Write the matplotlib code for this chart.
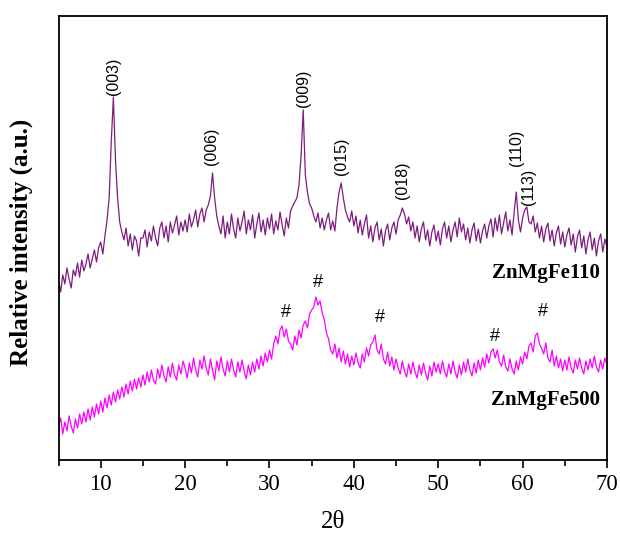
import numpy as np
import matplotlib
matplotlib.use('Agg')
import matplotlib.pyplot as plt
from matplotlib.ticker import MultipleLocator

# 2theta grid, 0.25 deg step
two_theta = np.arange(5, 70.001, 0.25)

# ZnMgFe110 (upper pattern, offset units)
znmgfe110 = [
    180, 168, 185, 176, 192, 181, 172, 190, 184, 197, 183, 200, 189, 196, 206, 192, 201, 210, 198, 212,
    218, 206, 224, 240, 262, 318, 363, 300, 262, 238, 228, 220, 232, 214, 226, 210, 224, 219, 204, 222,
    222, 230, 213, 228, 219, 234, 222, 214, 232, 238, 222, 234, 218, 238, 227, 235, 244, 225, 238, 229,
    240, 228, 246, 233, 240, 250, 233, 246, 252, 238, 250, 255, 264, 287, 262, 244, 234, 226, 244, 222,
    238, 226, 246, 231, 222, 242, 229, 238, 249, 226, 240, 230, 245, 222, 236, 247, 228, 240, 225, 242,
    231, 246, 226, 239, 230, 248, 235, 224, 242, 232, 249, 254, 258, 262, 275, 305, 350, 285, 268, 256,
    252, 244, 238, 247, 232, 242, 230, 240, 247, 230, 239, 229, 252, 268, 277, 262, 250, 243, 238, 249,
    234, 244, 227, 240, 225, 236, 245, 222, 234, 218, 232, 238, 220, 231, 214, 229, 236, 220, 232, 238,
    226, 240, 245, 252, 246, 236, 243, 229, 238, 222, 234, 218, 231, 238, 220, 230, 214, 228, 235, 219,
    229, 215, 231, 238, 222, 234, 218, 230, 238, 223, 242, 228, 236, 220, 232, 217, 230, 237, 219, 231,
    217, 229, 236, 222, 234, 241, 223, 242, 229, 245, 226, 237, 248, 229, 240, 225, 248, 268, 240, 228,
    242, 250, 253, 238, 236, 244, 228, 237, 222, 234, 218, 231, 237, 219, 230, 214, 227, 234, 216, 228,
    213, 225, 232, 215, 226, 208, 223, 230, 212, 224, 206, 220, 228, 210, 222, 204, 219, 226, 208, 221,
    213]

# ZnMgFe500 (lower pattern)
znmgfe500 = [
    33, 42, 26, 38, 29, 44, 34, 27, 41, 32, 46, 36, 48, 38, 51, 40, 53, 43, 56, 46,
    59, 48, 62, 52, 65, 55, 68, 58, 70, 61, 73, 63, 76, 66, 79, 69, 81, 71, 82, 73,
    85, 75, 88, 78, 90, 80, 76, 91, 82, 95, 84, 78, 93, 83, 97, 85, 80, 95, 86, 99,
    92, 82, 97, 87, 102, 90, 83, 100, 91, 104, 92, 85, 101, 90, 80, 99, 89, 103, 91, 84,
    99, 88, 101, 90, 83, 98, 88, 100, 89, 81, 95, 85, 98, 88, 101, 91, 104, 94, 107, 98,
    110, 101, 116, 124, 116, 130, 134, 123, 131, 119, 116, 110, 124, 115, 130, 122, 135, 139, 132, 146,
    150, 153, 163, 155, 159, 147, 140, 127, 121, 110, 106, 116, 102, 112, 98, 109, 96, 106, 93, 104,
    95, 107, 97, 92, 106, 98, 112, 104, 115, 118, 125, 110, 106, 116, 101, 96, 108, 94, 103, 90,
    101, 92, 86, 99, 89, 83, 96, 86, 98, 88, 82, 95, 85, 97, 87, 80, 94, 84, 98, 88,
    96, 86, 99, 89, 83, 96, 86, 99, 88, 82, 95, 85, 98, 88, 101, 90, 84, 97, 87, 100,
    90, 102, 93, 106, 97, 108, 111, 102, 110, 98, 94, 105, 93, 89, 101, 91, 86, 99, 90, 103,
    96, 108, 101, 114, 117, 108, 124, 127, 116, 112, 106, 117, 102, 98, 110, 94, 104, 92, 101, 89,
    100, 90, 103, 92, 87, 100, 91, 102, 92, 86, 99, 90, 101, 92, 104, 93, 88, 100, 91, 102,
    95]

# peak labels
hkl_labels = ['(003)', '(006)', '(009)', '(015)', '(018)', '(110)', '(113)']
hkl_x = [11.5, 23.1, 34.0, 38.55, 45.8, 59.3, 60.7]
hkl_y = [384, 314, 372, 304, 280, 312, 273]
hash_x = [32.0, 35.8, 43.1, 56.7, 62.4]
hash_y = [147, 177, 142, 123, 148]

serif = 'Liberation Serif'
sans = 'Liberation Sans'

fig = plt.figure(figsize=(6.2, 5.34), dpi=100)
ax = fig.add_axes([0.0944, 0.1386, 0.8846, 0.8315])
ax.plot(two_theta, znmgfe110, color='#7E1C80', lw=0.9)
ax.plot(two_theta, znmgfe500, color='#FF00FF', lw=0.9)

for lab, x, y in zip(hkl_labels, hkl_x, hkl_y):
    ax.text(x, y, lab, rotation=90, ha='center', va='center', fontsize=11.5, family=sans)
for x, y in zip(hash_x, hash_y):
    ax.text(x, y, '#', ha='center', va='center', fontsize=13, family=sans)

ax.text(69.2, 187, 'ZnMgFe110', ha='right', va='center', fontsize=15, fontweight='bold', family=serif)
ax.text(69.2, 60, 'ZnMgFe500', ha='right', va='center', fontsize=15, fontweight='bold', family=serif)

ax.set_xlim(5, 70)
ax.set_ylim(0, 444)
ax.xaxis.set_major_locator(MultipleLocator(10))
ax.xaxis.set_minor_locator(MultipleLocator(5))
ax.set_yticks([])
ax.tick_params(axis='x', which='major', direction='out', length=6, width=1.2, pad=4, labelsize=16.5)
ax.tick_params(axis='x', which='minor', direction='out', length=4, width=1.2)
for lab in ax.get_xticklabels():
    lab.set_family(serif)
for s in ax.spines.values():
    s.set_linewidth(1.3)

fig.text(0.034, 0.547, 'Relative intensity (a.u.)', rotation=90, ha='center', va='center',
         fontsize=18, fontweight='bold', family=serif)
fig.text(0.537, 0.022, '2θ', ha='center', va='center', fontsize=18, family=serif)

fig.savefig('out.png', dpi=100)
